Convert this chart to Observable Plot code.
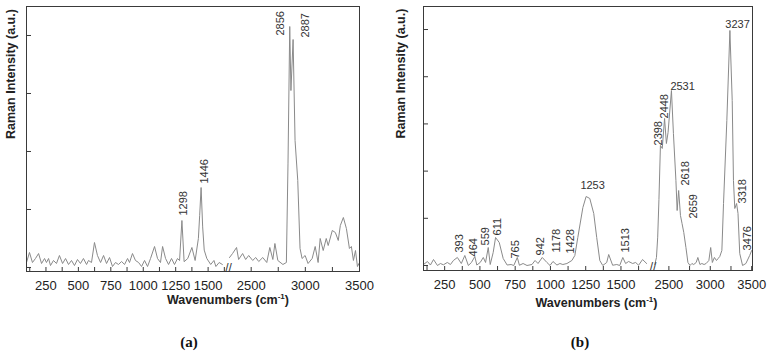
<!DOCTYPE html>
<html><head><meta charset="utf-8">
<script src="https://cdn.jsdelivr.net/npm/d3@7"></script>
<script src="https://cdn.jsdelivr.net/npm/@observablehq/plot@0.6"></script>
<style>
html,body{margin:0;padding:0;background:#fff;}
#wrap{position:relative;width:773px;height:353px;overflow:hidden;}
.panel{position:absolute;top:0;}
.cap{position:absolute;top:332px;width:40px;text-align:center;line-height:20px;font-family:"Liberation Serif","DejaVu Serif",serif;font-size:15px;font-weight:bold;color:#111;}
</style></head>
<body><div id="wrap"></div>
<script>
// ---------- data: panel (a) ----------
const specA_wave = [100,123,146,169,193,216,239,254,270,285,308,331,354,378,401,424,447,470,493,516,539,563,578,601,624,647,671,694,717,740,763,786,809,833,856,879,894,917,940,964,987,1010,1033,1056,1087,1110,1133,1149,1172,1195,1218,1241,1264,1280,1298,1315,1343,1375,1400,1425,1435,1446,1458,1470,1490,1520,1545,1560,1585,1610,
  2300,2328,2365,2384,2421,2449,2477,2514,2542,2570,2607,2644,2672,2700,2719,2746,2793,2825,2840,2856,2867,2887,2905,2930,2951,2970,2998,3025,3063,3091,3118,3137,3165,3193,3211,3249,3277,3304,3323,3351,3379,3407,3425,3444,3463,3481,3500];
const specA_int = [86,259,86,155,241,69,155,86,155,34,121,69,207,69,155,52,121,34,138,69,155,52,121,86,431,207,86,207,69,172,17,86,52,103,52,155,86,241,121,86,17,121,17,155,362,155,86,362,155,52,155,52,155,120,810,100,155,345,121,500,900,1379,700,300,155,52,121,17,86,52,
  172,241,345,138,241,138,207,121,172,103,172,86,345,138,414,121,52,86,1800,4155,3051,3931,2190,1500,328,155,207,69,155,362,86,500,293,500,379,638,603,466,724,862,672,328,362,121,293,17,86];
const peakA_text = ["1298","1446","2856","2887"];
const peakA_x = [1310,1472,2770,3000];
const peakA_y = [896,1448,4000,3965];

// ---------- data: panel (b) ----------
const specB_wave = [100,128,149,171,199,220,241,269,291,312,340,368,393,418,440,464,478,502,524,540,559,573,594,611,637,665,693,721,740,765,780,806,834,869,891,912,942,975,997,1018,1046,1067,1088,1117,1152,1173,1194,1230,1253,1279,1307,1328,1350,1371,1399,1413,1441,1470,1491,1513,1533,1554,1583,1604,1625,1653,1682,
  2330,2350,2365,2380,2398,2420,2448,2470,2490,2531,2555,2585,2600,2618,2640,2659,2680,2706,2730,2755,2778,2800,2830,2850,2875,2898,2925,2950,2983,3005,3025,3050,3075,3095,3115,3140,3160,3200,3237,3265,3280,3296,3318,3335,3356,3390,3430,3476,3500];
const specB_int = [21,85,10,127,0,42,15,64,21,106,170,42,212,0,64,190,10,64,170,64,381,21,275,593,487,148,10,21,0,170,5,42,0,21,106,42,170,64,0,85,10,42,21,42,106,212,593,1229,1462,1420,1102,593,106,0,64,233,5,21,0,170,42,85,42,64,5,127,42,
  21,170,600,1400,2543,2480,3115,2585,2818,3708,2797,1801,1165,1589,1060,890,700,381,64,0,42,21,64,170,21,42,21,42,106,381,64,170,106,148,191,318,1314,3073,4980,3496,1801,1208,1314,1102,254,0,42,212,318];
const peakB_text = ["393","464","559","611","765","942","1178","1428","1513","2398","2448","2618","2659","3318","3476"];
const peakB_x = [355,455,540,625,752,930,1043,1143,1533,2376,2448,2702,2799,3390,3451];
const peakB_y = [275,191,424,636,148,212,275,254,275,2543,3115,1695,996,1314,318];
const peakBh_text = ["1253","2531","3237"];
const peakBh_x = [1299,2666,3330];
const peakBh_y = [1695,3793,5107];

// ---------- axes ----------
const xTickVals = [125,250,375,500,625,750,875,1000,1125,1250,1375,1500,1625,2500,2750,3000,3250,3500];
const xLabelVals = [250,500,750,1000,1250,1500,2500,3000,3500];
const xLabelText = ["250","500","750","1000","1250","1500","2500","3000","3500"];
const yTicksA = [0,1000,2000,3000,4000];
const yTicksB = [0,1000,2000,3000,4000,5000];
const xTitleParts = ["Wavenumbers (cm","-1",")"];
const yTitle = "Raman Intensity (a.u.)";
const captions = ["(a)","(b)"];

const FONT = "'Liberation Sans', Arial, Helvetica, sans-serif";

function broken(leftMin, leftMax, rightMin, rightMax, gapU, ratio) {
  const r0 = leftMax + gapU;
  const toU = w => w <= leftMax ? w : r0 + (w - rightMin) * ratio;
  return {toU, domain: [leftMin, toU(rightMax)], breakU: (leftMax + r0) / 2, leftMax};
}

function panel(o) {
  const {toU, domain, breakU, leftMax} = o.scale;
  const innerW = o.width - o.ml - o.mr, innerH = o.height - o.mt - o.mb;
  const rows = o.wave.map((w, i) => ({u: toU(w), v: o.int[i], seg: w <= leftMax ? "L" : "R"}));
  const labRows = xLabelVals.map((w, i) => ({u: toU(w), t: xLabelText[i]}));
  const rot = o.pText.map((t, i) => ({u: toU(o.pX[i]), v: o.pY[i], t}));
  const hor = (o.hText || []).map((t, i) => ({u: toU(o.hX[i]), v: o.hY[i], t}));
  const xTitle = xTitleParts.join("");
  const svg = Plot.plot({
    width: o.width, height: o.height,
    marginLeft: o.ml, marginRight: o.mr, marginTop: o.mt, marginBottom: o.mb,
    style: {fontFamily: FONT, background: "transparent", color: "#222", overflow: "visible"},
    x: {domain, axis: null},
    y: {domain: o.yDomain, axis: null},
    marks: [
      Plot.line(rows, {x: "u", y: "v", z: "seg", stroke: "#8a8a8a", strokeWidth: 1}),
      Plot.frame({stroke: "#3a3a3a", strokeWidth: 1}),
      Plot.tickX(xTickVals.map(toU), {x: d => d, insetTop: innerH - 4, stroke: "#3a3a3a"}),
      Plot.tickY(o.yTicks, {y: d => d, insetRight: innerW - 5, stroke: "#3a3a3a"}),
      Plot.text(labRows, {x: "u", text: "t", frameAnchor: "bottom", lineAnchor: "top", dy: 9, fontSize: 13, fill: "#222"}),
      Plot.text([breakU], {x: d => d, text: () => "//", frameAnchor: "bottom", fontSize: 12, fill: "#333"}),
      Plot.text(rot, {x: "u", y: "v", text: "t", rotate: -90, textAnchor: "start", fontSize: 11, fill: "#333"}),
      Plot.text(hor, {x: "u", y: "v", text: "t", textAnchor: "middle", fontSize: 11, fill: "#333"}),
      Plot.text([yTitle], {text: d => d, frameAnchor: "left", rotate: -90, dx: o.yTitleDx, fontWeight: "bold", fontSize: 12.5, fill: "#222"}),
      Plot.text([xTitle], {text: d => d, frameAnchor: "bottom", dx: o.xTitleDx, dy: o.xTitleDy, fontWeight: "bold", fontSize: 12.5, fill: "#222"})
    ]
  });
  d3.select(svg).selectAll("text").filter(function () { return this.textContent === xTitle; })
    .each(function () {
      const t = d3.select(this).text(null);
      t.append("tspan").text(xTitleParts[0]);
      t.append("tspan").attr("dy", "-5").attr("font-size", "8").text(xTitleParts[1]);
      t.append("tspan").attr("dy", "5").text(xTitleParts[2]);
    });
  svg.classList.add("panel");
  svg.style.left = o.left + "px";
  return svg;
}

const wrap = document.getElementById("wrap");
wrap.appendChild(panel({
  left: 0, width: 386, height: 320, ml: 26, mr: 27, mt: 6, mb: 49,
  scale: broken(100, 1650, 2300, 3500, 15, 0.835),
  yDomain: [-69, 4500], yTicks: yTicksA,
  wave: specA_wave, int: specA_int,
  pText: peakA_text, pX: peakA_x, pY: peakA_y,
  yTitleDx: -16, xTitleDx: 35, xTitleDy: 32
}));
wrap.appendChild(panel({
  left: 386, width: 387, height: 320, ml: 37, mr: 21, mt: 6, mb: 50,
  scale: broken(100, 1720, 2320, 3510, 14, 0.587),
  yDomain: [-106, 5488], yTicks: yTicksB,
  wave: specB_wave, int: specB_int,
  pText: peakB_text, pX: peakB_x, pY: peakB_y,
  hText: peakBh_text, hX: peakBh_x, hY: peakBh_y,
  yTitleDx: -23, xTitleDx: 8.5, xTitleDy: 36
}));
const capPos = [189, 580];
captions.forEach((c, i) => {
  const d = document.createElement("div");
  d.className = "cap";
  d.style.left = (capPos[i] - 20) + "px";
  d.textContent = c;
  wrap.appendChild(d);
});
</script>
</body></html>
